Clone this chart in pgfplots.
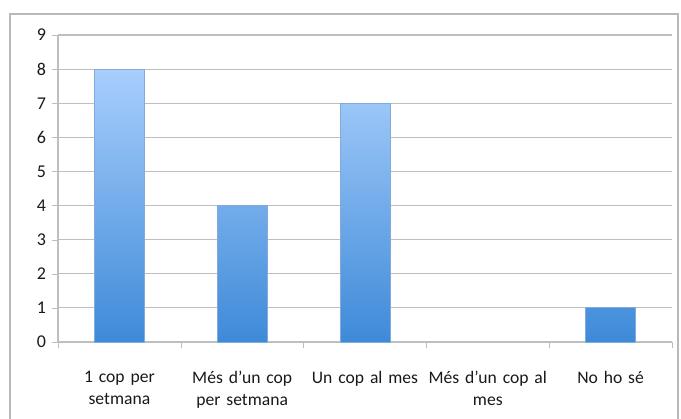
\documentclass[border=0pt]{standalone}
\usepackage{pgfplots}
\pgfplotsset{compat=1.18}
\usepackage{fontspec}
\setmainfont{Carlito}
\definecolor{gridc}{RGB}{190,190,190}
\definecolor{framec}{RGB}{185,185,185}
\definecolor{bartop}{RGB}{168,206,252}
\definecolor{barbot}{RGB}{62,138,216}
\definecolor{bardraw}{RGB}{130,170,220}
\begin{document}
\begin{tikzpicture}
\useasboundingbox (0,0) rectangle (510.75pt,-313.5pt);
\draw[framec, line width=1.2pt] (7.5pt,-10.5pt) rectangle (508.5pt,-330pt);
\begin{axis}[
  at={(43.5pt,-256.5pt)}, anchor=south west,
  scale only axis, width=460.5pt, height=230.25pt,
  xmin=-0.5, xmax=4.5, ymin=0, ymax=9,
  ytick={0,...,9},
  xtick={0,...,4},
  xticklabels={{1 cop per\\setmana},{Més d’un cop\\per setmana},{Un cop al mes},{Més d’un cop al\\mes},{No ho sé}},
  minor xtick={-0.5,0.5,...,4.5},
  major x tick style={draw=none},
  minor x tick style={gridc},
  minor tick length=4.5pt,
  major tick length=4.5pt,
  tick align=outside,
  ytick style={gridc},
  ymajorgrids, grid style={gridc, line width=0.8pt},
  axis lines*=left,
  axis line style={gridc, line width=0.8pt, -},
  /pgf/number format/assume math mode=true,
  yticklabel style={font=\fontsize{13.5}{16}\selectfont, xshift=-1pt, text=black!90},
  xticklabel style={font=\fontsize{13.2}{16.5}\selectfont, align=center, text width=110pt, yshift=-14pt, text=black!90},
  ybar, bar width=37.5pt,
]
\addplot[draw=bardraw, line width=0.6pt, top color=bartop, bottom color=barbot]
  coordinates {(0,8) (1,4) (2,7) (4,1)};
\end{axis}
\end{tikzpicture}
\end{document}
